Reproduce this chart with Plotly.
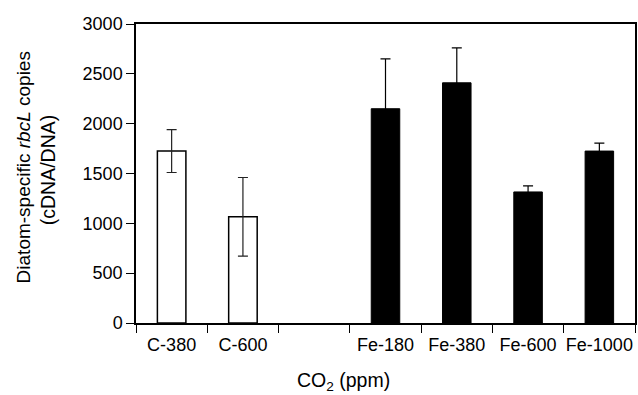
import plotly.graph_objects as go

# Sample groups on the CO2 axis; the blank slot separates controls from Fe-added
categories = ["C-380", "C-600", " ", "Fe-180", "Fe-380", "Fe-600", "Fe-1000"]

control_labels = ["C-380", "C-600"]
control_values = [1725, 1065]
control_errors = [215, 395]

iron_labels = ["Fe-180", "Fe-380", "Fe-600", "Fe-1000"]
iron_values = [2150, 2410, 1315, 1725]
iron_errors = [500, 350, 60, 80]

y_ticks = [0, 500, 1000, 1500, 2000, 2500, 3000]

FONT = "Arial, Liberation Sans, Helvetica, sans-serif"

fig = go.Figure()

fig.add_trace(go.Bar(
    x=control_labels,
    y=control_values,
    width=0.4,
    marker=dict(color="white", line=dict(color="black", width=1.5)),
    error_y=dict(type="data", array=control_errors, visible=True,
                 color="#222222", thickness=1.2, width=5),
    showlegend=False,
))

fig.add_trace(go.Bar(
    x=iron_labels,
    y=iron_values,
    width=0.4,
    marker=dict(color="black", line=dict(color="black", width=1)),
    error_y=dict(type="data", array=iron_errors, visible=True,
                 color="black", thickness=1.2, width=5),
    showlegend=False,
))

fig.update_layout(
    width=638,
    height=395,
    margin=dict(l=136, r=1, t=24, b=72),
    paper_bgcolor="white",
    plot_bgcolor="white",
    barmode="overlay",
    font=dict(family=FONT, size=18, color="black"),
)

fig.update_xaxes(
    type="category",
    categoryorder="array",
    categoryarray=categories,
    range=[-0.5, len(categories) - 0.5],
    tickson="boundaries",
    tickangle=0,
    ticks="outside",
    ticklen=8,
    tickwidth=1.2,
    tickcolor="black",
    ticklabelstandoff=5,
    showline=True,
    linecolor="black",
    linewidth=1.5,
    mirror=True,
    showgrid=False,
    tickfont=dict(family=FONT, size=18, color="black"),
)

fig.update_yaxes(
    range=[0, 3000],
    tickvals=y_ticks,
    ticks="outside",
    ticklen=8,
    tickwidth=1.2,
    tickcolor="black",
    showline=True,
    linecolor="black",
    linewidth=1.5,
    mirror=True,
    showgrid=False,
    zeroline=False,
    tickfont=dict(family=FONT, size=18, color="black"),
)

# Axis titles
fig.add_annotation(
    text="CO<sub>2</sub> (ppm)", xref="paper", yref="paper",
    x=0.415, y=-0.194, xanchor="center", yanchor="middle",
    showarrow=False, font=dict(family=FONT, size=19.5, color="black"),
)
fig.add_annotation(
    text="Diatom-specific <i>rbcL</i> copies", xref="paper", yref="paper",
    x=-0.2255, y=0.522, xanchor="center", yanchor="middle", textangle=-90,
    showarrow=False, font=dict(family=FONT, size=19, color="black"),
)
fig.add_annotation(
    text="(cDNA/DNA)", xref="paper", yref="paper",
    x=-0.1756, y=0.512, xanchor="center", yanchor="middle", textangle=-90,
    showarrow=False, font=dict(family=FONT, size=19.5, color="black"),
)

fig.write_html("out.html")
